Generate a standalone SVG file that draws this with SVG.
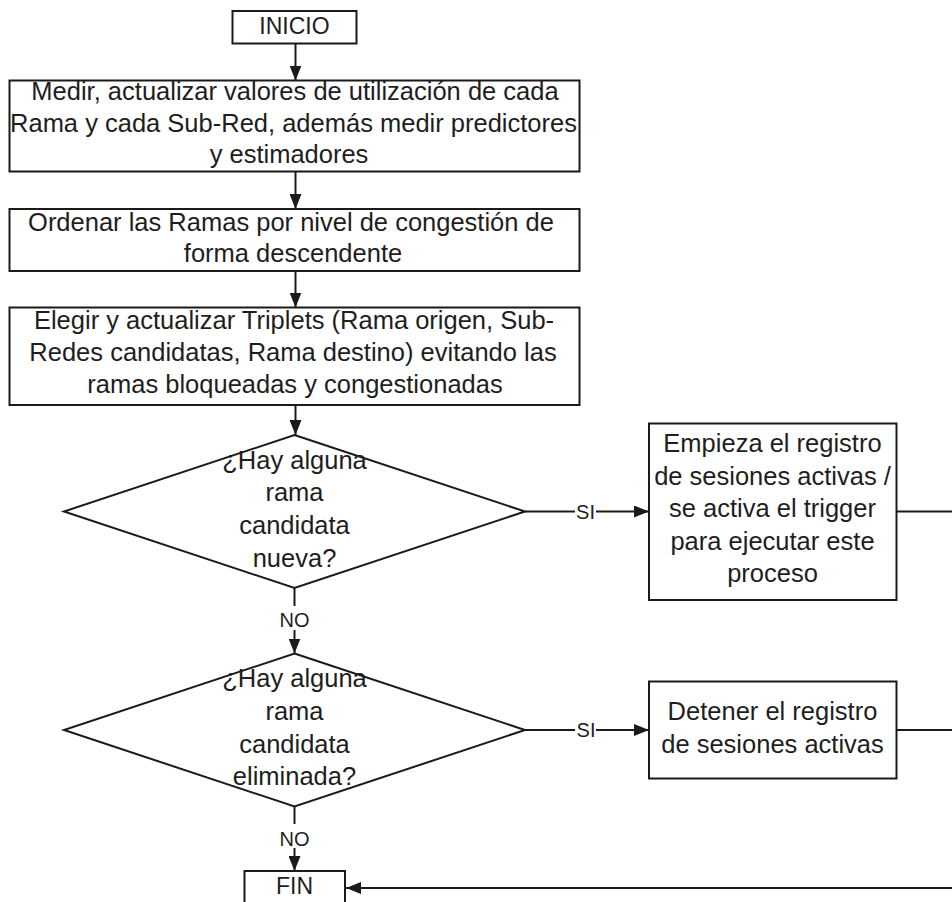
<svg xmlns="http://www.w3.org/2000/svg" width="952" height="902" viewBox="0 0 952 902">
  <style>
    .box { fill: #ffffff; stroke: #1a1a1a; stroke-width: 2; }
    .line { fill: none; stroke: #1a1a1a; stroke-width: 2; }
    .arrow { marker-end: url(#head); }
    text { font-family: "Liberation Sans", Arial, sans-serif; fill: #1e1e1e; text-anchor: middle; }
    .t { font-size: 25.5px; }
    .term { font-size: 23px; }
    .lbl { font-size: 20px; }
  </style>
  <defs>
    <marker id="head" markerUnits="userSpaceOnUse" markerWidth="15" markerHeight="12" refX="15" refY="6" orient="auto">
      <path d="M0,0 L15,6 L0,12 z" fill="#1a1a1a"/>
    </marker>
  </defs>

  <rect width="952" height="902" fill="#ffffff"/>

  <!-- connectors -->
  <g id="connectors">
    <line class="line arrow" x1="295.5" y1="43.5" x2="295.5" y2="80.5"/>
    <line class="line arrow" x1="295.5" y1="171.5" x2="295.5" y2="209"/>
    <line class="line arrow" x1="295.5" y1="271" x2="295.5" y2="307.5"/>
    <line class="line arrow" x1="295.5" y1="405" x2="295.5" y2="435"/>

    <!-- first decision: NO branch -->
    <line class="line" x1="294.5" y1="588" x2="294.5" y2="606"/>
    <text class="lbl" x="294.5" y="627">NO</text>
    <line class="line arrow" x1="294.5" y1="630" x2="294.5" y2="653.5"/>

    <!-- first decision: SI branch -->
    <line class="line" x1="525" y1="511.5" x2="575" y2="511.5"/>
    <text class="lbl" x="585.5" y="518.5">SI</text>
    <line class="line arrow" x1="596" y1="511.5" x2="649" y2="511.5"/>

    <!-- second decision: SI branch -->
    <line class="line" x1="525" y1="730" x2="575" y2="730"/>
    <text class="lbl" x="586" y="737">SI</text>
    <line class="line arrow" x1="596" y1="730" x2="649" y2="730"/>

    <!-- second decision: NO branch -->
    <line class="line" x1="294.5" y1="806.5" x2="294.5" y2="824"/>
    <text class="lbl" x="294.5" y="845.5">NO</text>
    <line class="line arrow" x1="294.5" y1="848" x2="294.5" y2="871"/>

    <!-- return paths to FIN -->
    <line class="line" x1="896.5" y1="511.5" x2="953" y2="511.5"/>
    <line class="line" x1="896.5" y1="730" x2="953" y2="730"/>
    <line class="line arrow" x1="953" y1="888" x2="346" y2="888"/>
  </g>

  <g id="inicio">
    <rect class="box" x="232.5" y="11" width="124" height="32.5"/>
    <text class="term" x="294.5" y="33.5">INICIO</text>
  </g>

  <g id="medir">
    <rect class="box" x="9.5" y="80.5" width="570" height="91"/>
    <text class="t" x="295" y="100">Medir, actualizar valores de utilización de cada</text>
    <text class="t" x="293.5" y="131.5">Rama y cada Sub-Red, además medir predictores</text>
    <text class="t" x="289" y="163">y estimadores</text>
  </g>

  <g id="ordenar">
    <rect class="box" x="9.5" y="209" width="570" height="62"/>
    <text class="t" x="291" y="230.5">Ordenar las Ramas por nivel de congestión de</text>
    <text class="t" x="293" y="262">forma descendente</text>
  </g>

  <g id="elegir">
    <rect class="box" x="9.5" y="307.5" width="570" height="97.5"/>
    <text class="t" x="294" y="329">Elegir y actualizar Triplets (Rama origen, Sub-</text>
    <text class="t" x="293" y="361">Redes candidatas, Rama destino) evitando las</text>
    <text class="t" x="295" y="392.5">ramas bloqueadas y congestionadas</text>
  </g>

  <g id="decision-nueva">
    <polygon class="box" points="294.5,435 525,511.5 294.5,588 64,511.5"/>
    <text class="t" x="294.5" y="468.5">¿Hay alguna</text>
    <text class="t" x="294.5" y="501">rama</text>
    <text class="t" x="294.5" y="534">candidata</text>
    <text class="t" x="294.5" y="566.5">nueva?</text>
  </g>

  <g id="empieza">
    <rect class="box" x="649" y="423.5" width="247.5" height="176.5"/>
    <text class="t" x="772.5" y="452">Empieza el registro</text>
    <text class="t" x="772.5" y="484.5">de sesiones activas /</text>
    <text class="t" x="772.5" y="517">se activa el trigger</text>
    <text class="t" x="772.5" y="549.5">para ejecutar este</text>
    <text class="t" x="772.5" y="582">proceso</text>
  </g>

  <g id="decision-eliminada">
    <polygon class="box" points="294.5,653.5 525,730 294.5,806.5 64,730"/>
    <text class="t" x="294.5" y="687">¿Hay alguna</text>
    <text class="t" x="294.5" y="719.5">rama</text>
    <text class="t" x="294.5" y="752.5">candidata</text>
    <text class="t" x="294.5" y="785">eliminada?</text>
  </g>

  <g id="detener">
    <rect class="box" x="649" y="681.5" width="247.5" height="97"/>
    <text class="t" x="772.5" y="720">Detener el registro</text>
    <text class="t" x="772.5" y="753">de sesiones activas</text>
  </g>

  <g id="fin">
    <rect class="box" x="244.5" y="871" width="100.5" height="45"/>
    <text class="term" x="294.5" y="894">FIN</text>
  </g>
</svg>
